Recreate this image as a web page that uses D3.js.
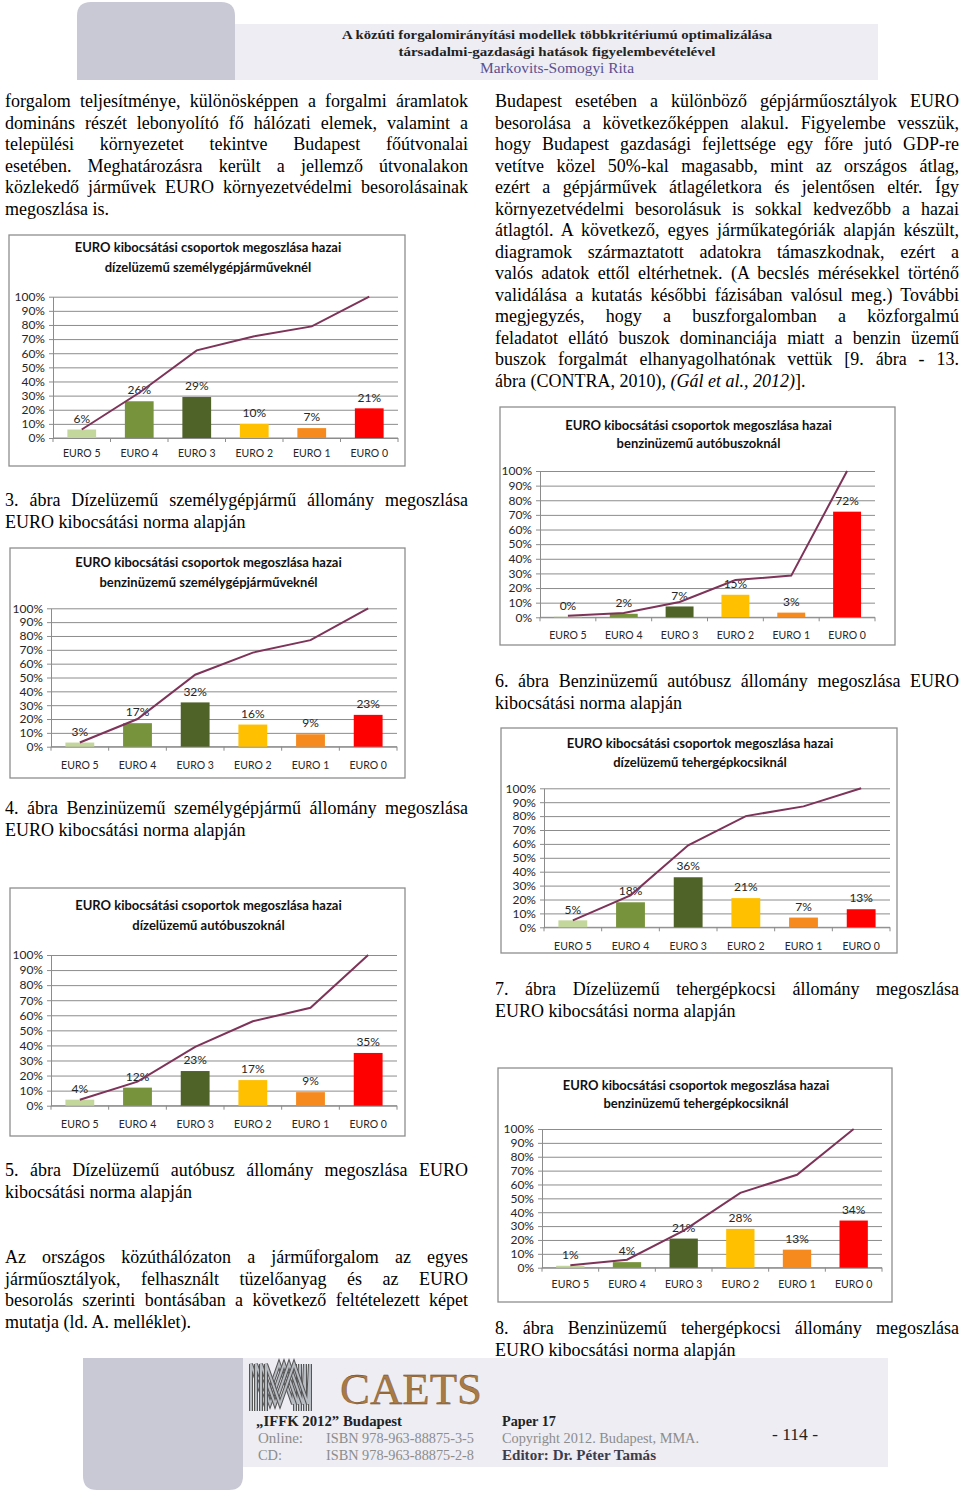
<!DOCTYPE html>
<html>
<head>
<meta charset="utf-8">
<script src="https://cdn.jsdelivr.net/npm/d3@7"></script>
<style>
body { margin: 0; background: #fff; }
#page { position: relative; width: 960px; height: 1496px; overflow: hidden; }
#page svg { position: absolute; left: 0; top: 0; }
.ln { position: absolute; font-family: "Liberation Serif", "Times New Roman", serif; font-size: 18px;
      line-height: 21.5px; white-space: nowrap; color: #000; }
</style>
</head>
<body>
<div id="page"></div>
<script>
// data
const CATEGORIES = ['EURO 5', 'EURO 4', 'EURO 3', 'EURO 2', 'EURO 1', 'EURO 0'];
const TICKS = [0, 0.1, 0.2, 0.3, 0.4, 0.5, 0.6, 0.7, 0.8, 0.9, 1];

const DIESEL_CAR = [0.06, 0.26, 0.29, 0.10, 0.07, 0.21];
const DIESEL_CAR_CUM = [0.06, 0.32, 0.62, 0.72, 0.79, 1.00];
const PETROL_CAR = [0.03, 0.17, 0.32, 0.16, 0.09, 0.23];
const PETROL_CAR_CUM = [0.03, 0.20, 0.52, 0.68, 0.77, 1.00];
const DIESEL_BUS = [0.04, 0.12, 0.23, 0.17, 0.09, 0.35];
const DIESEL_BUS_CUM = [0.04, 0.16, 0.39, 0.56, 0.65, 1.00];
const PETROL_BUS = [0.004, 0.024, 0.074, 0.154, 0.032, 0.722];
const PETROL_BUS_CUM = [0.01, 0.03, 0.105, 0.255, 0.285, 1.00];
const DIESEL_TRUCK = [0.05, 0.18, 0.36, 0.21, 0.07, 0.13];
const DIESEL_TRUCK_CUM = [0.05, 0.23, 0.59, 0.80, 0.87, 1.00];
const PETROL_TRUCK = [0.014, 0.04, 0.21, 0.28, 0.13, 0.34];
const PETROL_TRUCK_CUM = [0.017, 0.058, 0.267, 0.54, 0.67, 1.00];

const TITLE_1 = 'EURO kibocsátási csoportok megoszlása hazai';
const SUBTITLES = ['dízelüzemű személygépjárműveknél', 'benzinüzemű személygépjárműveknél',
  'dízelüzemű autóbuszoknál', 'benzinüzemű autóbuszoknál',
  'dízelüzemű tehergépkocsiknál', 'benzinüzemű tehergépkocsiknál'];

const BAR_COLORS = ['#c3d69b', '#77933c', '#4f6228', '#ffc000', '#f68a1e', '#ff0000'];
const LINE_COLOR = '#7e3358';
const LINE_H = 21.5;
const pct = d3.format('.0%');

const page = d3.select('#page');
const svg = page.append('svg').attr('width', 960).attr('height', 1496);

// header and footer decoration
svg.append('path')
  .attr('d', 'M77,80 L77,16 Q77,2 91,2 L221,2 Q235,2 235,16 L235,80 Z')
  .attr('fill', '#c9c9d6');
svg.append('rect').attr('x', 235).attr('y', 24).attr('width', 643).attr('height', 56).attr('fill', '#ededf3');

const head = [
  {t: 'A közúti forgalomirányítási modellek többkritériumú optimalizálása', y: 39, w: 430, c: '#222', b: 'bold', s: 13.5},
  {t: 'társadalmi-gazdasági hatások figyelembevételével', y: 56, w: 317, c: '#222', b: 'bold', s: 13.5},
  {t: 'Markovits-Somogyi Rita', y: 73, w: 154, c: '#5b4f8f', b: 'normal', s: 14}
];
head.forEach(h => {
  svg.append('text').attr('x', 557).attr('y', h.y).attr('text-anchor', 'middle')
    .attr('textLength', h.w).attr('lengthAdjust', 'spacingAndGlyphs')
    .style('font-family', 'Liberation Serif').style('font-size', h.s + 'px')
    .style('font-weight', h.b).attr('fill', h.c).text(h.t);
});

svg.append('path')
  .attr('d', 'M83,1358 L243,1358 L243,1476 Q243,1490 229,1490 L97,1490 Q83,1490 83,1476 Z')
  .attr('fill', '#c9c9d6');
svg.append('rect').attr('x', 243).attr('y', 1358).attr('width', 645).attr('height', 109).attr('fill', '#ededf3');

// MM logo zigzags
const logo = svg.append('g');
[0, 5, 10, 15].forEach(o => {
  const pts = [[251 + o, 1411], [251 + o, 1364], [265 + o, 1404], [279 + o, 1364], [293 + o, 1404], [295 + o, 1364], [295 + o, 1411]];
  logo.append('polyline').attr('points', pts.map(p => p.join(',')).join(' '))
    .attr('fill', 'none').attr('stroke', '#555').attr('stroke-width', 4).attr('stroke-linejoin', 'miter');
  logo.append('polyline').attr('points', pts.map(p => p.join(',')).join(' '))
    .attr('fill', 'none').attr('stroke', '#b8bcc3').attr('stroke-width', 2).attr('stroke-linejoin', 'miter');
});
svg.append('text').attr('x', 340).attr('y', 1404).attr('textLength', 142).attr('lengthAdjust', 'spacingAndGlyphs')
  .style('font-family', 'Liberation Serif').style('font-size', '44px')
  .attr('fill', '#a87a45').attr('stroke', '#5a3512').attr('stroke-width', 0.3).text('CAETS');

const foot = [
  {t: '„IFFK 2012” Budapest', x: 256, y: 1426, w: 146, c: '#222', b: 'bold'},
  {t: 'Online:', x: 258, y: 1443, w: 45, c: '#8c8c8c', b: 'normal'},
  {t: 'ISBN 978-963-88875-3-5', x: 326, y: 1443, w: 148, c: '#8c8c8c', b: 'normal'},
  {t: 'CD:', x: 258, y: 1460, w: 24, c: '#8c8c8c', b: 'normal'},
  {t: 'ISBN 978-963-88875-2-8', x: 326, y: 1460, w: 148, c: '#8c8c8c', b: 'normal'},
  {t: 'Paper 17', x: 502, y: 1426, w: 54, c: '#222', b: 'bold'},
  {t: 'Copyright 2012. Budapest, MMA.', x: 502, y: 1443, w: 197, c: '#8c8c8c', b: 'normal'},
  {t: 'Editor: Dr. Péter Tamás', x: 502, y: 1460, w: 154, c: '#3c3c4c', b: 'bold'},
  {t: '- 114 -', x: 772, y: 1440, w: 46, c: '#222', b: 'normal'}
];
foot.forEach(f => {
  svg.append('text').attr('x', f.x).attr('y', f.y)
    .attr('textLength', f.w).attr('lengthAdjust', 'spacingAndGlyphs')
    .style('font-family', 'Liberation Serif').style('font-size', f.t === '- 114 -' ? '17px' : '14px')
    .style('font-weight', f.b).attr('fill', f.c).text(f.t);
});

// charts
function drawChart(cfg) {
  const g = svg.append('g');
  const [bx0, by0, bx1, by1] = cfg.box;
  g.append('rect').attr('x', bx0).attr('y', by0).attr('width', bx1 - bx0).attr('height', by1 - by0)
    .attr('fill', '#fff').attr('stroke', '#8e8e8e').attr('stroke-width', 1.3);

  [TITLE_1, cfg.sub].forEach((t, i) => {
    g.append('text').attr('x', (bx0 + bx1) / 2 + 1).attr('y', cfg.titleY[i]).attr('dy', '0.35em')
      .attr('text-anchor', 'middle').style('font-family', 'Lato').style('font-weight', 'bold')
      .style('font-size', '13px').attr('fill', '#111').text(t);
  });

  const y = d3.scaleLinear().domain([0, 1]).range([cfg.B, cfg.T]);
  const x = d3.scaleBand().domain(CATEGORIES).range([cfg.L, cfg.R]).paddingInner(0.5).paddingOuter(0.25);
  const bw = x.bandwidth();

  // grid
  g.append('g').attr('transform', `translate(${cfg.L},0)`)
    .call(d3.axisLeft(y).tickValues(TICKS).tickSize(-(cfg.R - cfg.L)).tickFormat(''))
    .call(a => a.select('.domain').remove())
    .call(a => a.selectAll('line').attr('stroke', '#8c8c8c'));

  // left axis with labels
  g.append('g').attr('transform', `translate(${cfg.L},0)`)
    .call(d3.axisLeft(y).tickValues(TICKS).tickSize(4).tickSizeOuter(0).tickPadding(4).tickFormat(pct))
    .call(a => a.select('.domain').attr('stroke', '#8c8c8c'))
    .call(a => a.selectAll('line').attr('stroke', '#8c8c8c'))
    .call(a => a.selectAll('text').style('font-family', 'Lato').style('font-size', '12px').attr('fill', '#262626'));

  // bottom axis: labels plus boundary ticks
  g.append('g').attr('transform', `translate(0,${cfg.B})`)
    .call(d3.axisBottom(x).tickSize(0).tickPadding(cfg.catY - cfg.B - 3.5))
    .call(a => a.select('.domain').remove())
    .call(a => a.selectAll('text').style('font-family', 'Lato').style('font-size', '10.5px').attr('fill', '#262626'));
  const edges = CATEGORIES.map(c => x(c) - x.step() * 0.25).concat([cfg.R]);
  g.selectAll('line.edge').data(edges).enter().append('line').attr('class', 'edge')
    .attr('x1', d => d).attr('x2', d => d).attr('y1', cfg.B).attr('y2', cfg.B + 4)
    .attr('stroke', '#8c8c8c');
  g.append('line').attr('x1', cfg.L).attr('x2', cfg.R).attr('y1', cfg.B).attr('y2', cfg.B)
    .attr('stroke', '#8c8c8c');

  g.selectAll('rect.bar').data(cfg.values).enter().append('rect').attr('class', 'bar')
    .attr('x', (d, i) => x(CATEGORIES[i])).attr('width', bw)
    .attr('y', d => y(d)).attr('height', d => cfg.B - y(d))
    .attr('fill', (d, i) => BAR_COLORS[i]);

  g.selectAll('text.val').data(cfg.values).enter().append('text').attr('class', 'val')
    .attr('x', (d, i) => x(CATEGORIES[i]) + bw / 2).attr('y', d => y(d) - 11).attr('dy', '0.35em')
    .attr('text-anchor', 'middle').style('font-family', 'Lato').style('font-size', '12px')
    .attr('fill', '#262626').text(d => pct(d));

  const line = d3.line().x((d, i) => x(CATEGORIES[i]) + bw / 2).y(d => y(d));
  g.append('path').datum(cfg.cum).attr('d', line).attr('fill', 'none')
    .attr('stroke', LINE_COLOR).attr('stroke-width', 2);
}

const charts = [
  {box: [9, 235, 405, 466], L: 53, R: 398, T: 296.7, B: 438, titleY: [247, 267], catY: 453.5, values: DIESEL_CAR, cum: DIESEL_CAR_CUM, sub: SUBTITLES[0]},
  {box: [10, 548, 405, 778], L: 51, R: 397, T: 608.3, B: 746.7, titleY: [562, 582], catY: 765, values: PETROL_CAR, cum: PETROL_CAR_CUM, sub: SUBTITLES[1]},
  {box: [10, 888, 405, 1136], L: 51, R: 397, T: 955, B: 1105.7, titleY: [905, 925], catY: 1124, values: DIESEL_BUS, cum: DIESEL_BUS_CUM, sub: SUBTITLES[2]},
  {box: [500, 407, 895, 645], L: 540, R: 875, T: 471, B: 617.3, titleY: [425, 443.5], catY: 635, values: PETROL_BUS, cum: PETROL_BUS_CUM, sub: SUBTITLES[3]},
  {box: [501, 728, 897, 953], L: 544, R: 890, T: 788.3, B: 927.3, titleY: [743, 762], catY: 945.7, values: DIESEL_TRUCK, cum: DIESEL_TRUCK_CUM, sub: SUBTITLES[4]},
  {box: [498, 1068, 892, 1302], L: 542, R: 882, T: 1129, B: 1267.7, titleY: [1085, 1103], catY: 1284, values: PETROL_TRUCK, cum: PETROL_TRUCK_CUM, sub: SUBTITLES[5]}
];
charts.forEach(drawChart);

// body text, one div per printed line, justified by word spacing
function addLines(x, top, width, lines) {
  lines.forEach((t, i) => {
    const div = page.append('div').attr('class', 'ln')
      .style('left', x + 'px').style('top', (top + 2 + i * LINE_H) + 'px');
    const span = div.append('span').html(t);
    if (i < lines.length - 1) {
      const w = span.node().getBoundingClientRect().width;
      const gaps = (t.match(/ /g) || []).length;
      if (gaps) span.style('word-spacing', ((width - w) / gaps) + 'px');
    }
  });
}

document.fonts.ready.then(() => {
  addLines(5, 89, 463, [
    'forgalom teljesítménye, különösképpen a forgalmi áramlatok',
    'domináns részét lebonyolító fő hálózati elemek, valamint a',
    'települési környezetet tekintve Budapest főútvonalai',
    'esetében. Meghatározásra került a jellemző útvonalakon',
    'közlekedő járművek EURO környezetvédelmi besorolásainak',
    'megoszlása is.'
  ]);
  addLines(5, 488, 463, ['3. ábra Dízelüzemű személygépjármű állomány megoszlása', 'EURO kibocsátási norma alapján']);
  addLines(5, 796, 463, ['4. ábra Benzinüzemű személygépjármű állomány megoszlása', 'EURO kibocsátási norma alapján']);
  addLines(5, 1158, 463, ['5. ábra Dízelüzemű autóbusz állomány megoszlása EURO', 'kibocsátási norma alapján']);
  addLines(5, 1245, 463, [
    'Az országos közúthálózaton a járműforgalom az egyes',
    'járműosztályok, felhasznált tüzelőanyag és az EURO',
    'besorolás szerinti bontásában a következő feltételezett képet',
    'mutatja (ld. A. melléklet).'
  ]);
  addLines(495, 89, 464, [
    'Budapest esetében a különböző gépjárműosztályok EURO',
    'besorolása a következőképpen alakul. Figyelembe vesszük,',
    'hogy Budapest gazdasági fejlettsége egy főre jutó GDP-re',
    'vetítve közel 50%-kal magasabb, mint az országos átlag,',
    'ezért a gépjárművek átlagéletkora és jelentősen eltér. Így',
    'környezetvédelmi besorolásuk is sokkal kedvezőbb a hazai',
    'átlagtól. A következő, egyes járműkategóriák alapján készült,',
    'diagramok származtatott adatokra támaszkodnak, ezért a',
    'valós adatok ettől eltérhetnek. (A becslés mérésekkel történő',
    'validálása a kutatás későbbi fázisában valósul meg.) További',
    'megjegyzés, hogy a buszforgalomban a közforgalmú',
    'feladatot ellátó buszok dominanciája miatt a benzin üzemű',
    'buszok forgalmát elhanyagolhatónak vettük [9. ábra - 13.',
    'ábra (CONTRA, 2010), <i>(Gál et al., 2012)</i>].'
  ]);
  addLines(495, 669, 464, ['6. ábra Benzinüzemű autóbusz állomány megoszlása EURO', 'kibocsátási norma alapján']);
  addLines(495, 977, 464, ['7. ábra Dízelüzemű tehergépkocsi állomány megoszlása', 'EURO kibocsátási norma alapján']);
  addLines(495, 1316, 464, ['8. ábra Benzinüzemű tehergépkocsi állomány megoszlása', 'EURO kibocsátási norma alapján']);
});
</script>
</body>
</html>
